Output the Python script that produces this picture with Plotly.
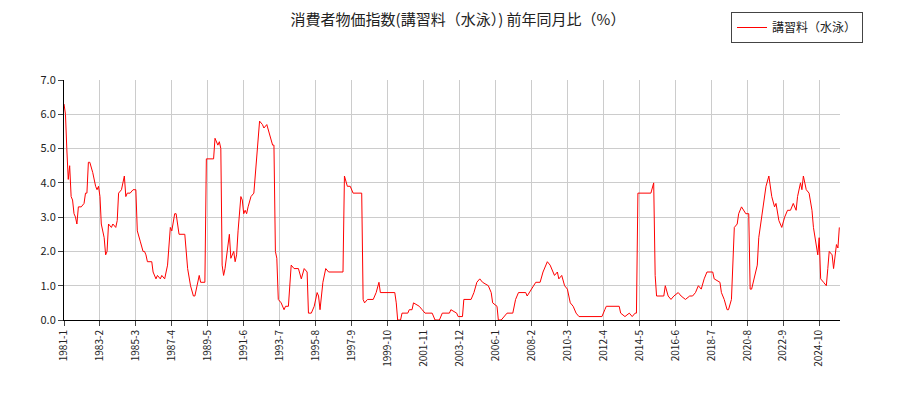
import pandas as pd
import plotly.graph_objects as go

# months elapsed since 1981-01, and YoY % value
month_index = [0,1,2,3,4,5,6,7,8,9,10,12,14,15,16,17,18,20,22,23,24,25,26,28,29,30,31,33,34,36,37,38,40,42,43,44,46,48,50,51,53,55,56,57,58,61,62,63,64,65,67,68,70,72,74,75,77,78,80,84,86,88,89,90,91,93,94,95,98,99,104,105,107,108,109,110,111,112,114,115,116,118,119,120,121,123,124,125,126,127,128,130,132,134,136,138,139,141,143,145,146,147,148,149,151,153,154,156,158,160,163,164,165,167,169,170,172,174,176,177,178,180,182,184,194,195,197,199,200,201,207,208,209,211,215,217,219,220,230,231,232,234,235,239,240,242,243,247,249,251,256,257,258,261,263,268,269,273,274,277,278,283,285,287,289,291,295,297,298,301,302,304,306,308,312,314,316,321,322,325,328,331,333,336,338,340,341,343,344,346,348,350,352,354,356,358,374,376,377,386,387,390,393,395,397,398,399,408,410,411,412,417,418,420,422,424,427,429,432,435,437,439,441,443,445,447,451,452,456,457,459,461,462,464,465,466,468,469,471,474,476,477,478,480,482,483,485,487,488,490,492,494,495,497,499,501,503,505,507,509,510,512,513,514,516,518,520,521,523,524,525,526,528,530,531,532,534,535,537,538,539]
values = [6.3,6.0,5.0,4.1,4.5,3.6,3.5,3.1,3.0,2.8,3.3,3.3,3.4,3.7,3.7,4.6,4.6,4.3,3.9,3.8,3.9,3.6,2.8,2.4,1.9,2.0,2.8,2.7,2.8,2.7,2.9,3.7,3.8,4.2,3.6,3.7,3.7,3.8,3.8,2.6,2.3,2.0,2.0,1.9,1.7,1.7,1.4,1.3,1.2,1.3,1.2,1.3,1.2,1.6,2.7,2.6,3.1,3.1,2.5,2.5,1.5,1.0,0.8,0.7,0.7,1.1,1.3,1.1,1.1,4.7,4.7,5.3,5.1,5.2,5.0,1.6,1.3,1.5,2.3,2.5,1.8,2.0,1.7,1.9,2.6,3.6,3.5,3.1,3.2,3.1,3.3,3.6,3.7,4.8,5.8,5.7,5.6,5.7,5.4,5.1,5.1,2.0,1.8,0.6,0.5,0.3,0.4,0.4,1.6,1.5,1.5,1.3,1.2,1.5,1.4,0.2,0.2,0.4,0.8,0.7,0.3,1.1,1.5,1.4,1.4,4.2,3.9,3.9,3.8,3.7,3.7,0.6,0.5,0.6,0.6,0.8,1.1,0.8,0.8,0.5,0.0,0.0,0.2,0.2,0.3,0.3,0.5,0.4,0.3,0.2,0.2,0.1,0.0,0.0,0.2,0.2,0.3,0.2,0.1,0.1,0.6,0.6,0.8,1.1,1.2,1.1,1.0,0.8,0.5,0.4,0.0,0.0,0.1,0.2,0.2,0.6,0.8,0.8,0.7,0.9,1.1,1.1,1.4,1.7,1.6,1.4,1.3,1.4,1.2,1.3,1.0,0.9,0.5,0.4,0.2,0.1,0.1,0.3,0.4,0.4,0.2,0.1,0.2,0.1,0.2,0.2,3.7,3.7,4.0,1.3,0.7,0.7,1.0,0.7,0.6,0.7,0.8,0.7,0.6,0.7,0.7,0.8,1.0,0.9,1.2,1.4,1.4,1.2,1.1,0.8,0.6,0.3,0.3,0.6,1.6,2.7,2.8,3.1,3.3,3.1,3.1,0.9,0.9,1.3,1.6,2.4,3.0,3.5,3.9,4.2,3.6,3.3,3.4,2.9,2.7,3.0,3.2,3.2,3.4,3.2,3.6,4.0,3.8,4.2,3.8,3.7,3.2,2.7,2.2,1.9,2.4,1.2,1.1,1.0,1.5,2.0,1.9,1.5,2.2,2.1,2.7]
tick_labels = ["1981-1","1983-2","1985-3","1987-4","1989-5","1991-6","1993-7","1995-8","1997-9","1999-10","2001-11","2003-12","2006-1","2008-2","2010-3","2012-4","2014-5","2016-6","2018-7","2020-8","2022-9","2024-10"]
series_name = "講習料（水泳）"
title = "消費者物価指数(講習料（水泳）) 前年同月比（%）"

start = pd.Timestamp("1981-01-01")
dates = [start + pd.DateOffset(months=m) for m in month_index]
tick_vals = [pd.Timestamp(f"{t.split('-')[0]}-{int(t.split('-')[1]):02d}-01") for t in tick_labels]

fig = go.Figure(go.Scatter(x=dates, y=values, mode="lines", name=series_name,
                           line=dict(color="red", width=1)))
font = "Noto Sans CJK JP"
fig.update_layout(
    width=900, height=400, paper_bgcolor="white", plot_bgcolor="white",
    margin=dict(l=56, r=68, t=72, b=88, autoexpand=False),
    font=dict(family=font, size=11, color="#222"),
    title=dict(text=title, x=0.5, xanchor="center", y=0.985, yanchor="top",
               yref="container", font=dict(size=15)),
    showlegend=True,
    legend=dict(x=0.95, y=0.99, xref="container", yref="container", xanchor="right",
                yanchor="top", bordercolor="#444", borderwidth=1, font=dict(size=12),
                itemwidth=30),
    xaxis=dict(range=[start, pd.Timestamp("2025-12-15")], tickvals=tick_vals, ticktext=tick_labels,
               tickangle=-90, showgrid=True, gridcolor="#ccc", ticks="outside",
               linecolor="black", tickfont=dict(size=10)),
    yaxis=dict(range=[0, 7], dtick=1, tickformat=".1f", showgrid=True, gridcolor="#ccc",
               ticks="outside", linecolor="black", tickfont=dict(size=11)),
)
fig.write_html("out.html")
